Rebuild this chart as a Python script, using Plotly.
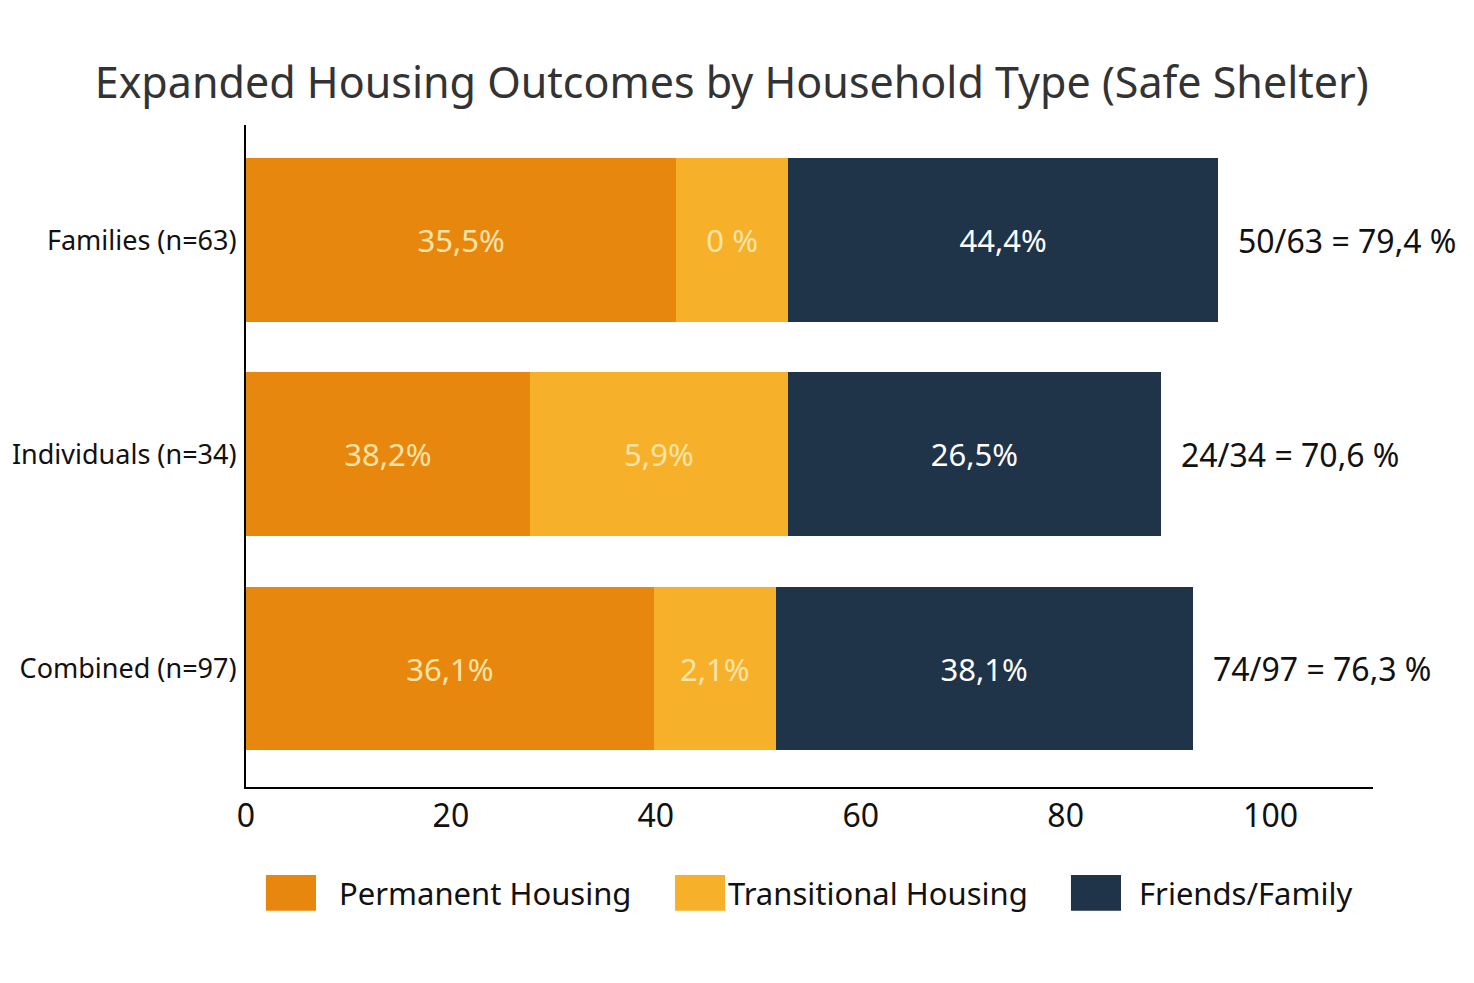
import plotly.graph_objects as go

groups = ["Families (n=63)", "Individuals (n=34)", "Combined (n=97)"]
series = ["Permanent Housing", "Transitional Housing", "Friends/Family"]

# segment lengths as drawn in the picture
permanent = [42.0, 27.7, 39.8]
transitional = [10.9, 25.2, 11.9]
friends = [42.0, 36.4, 40.7]

# labels printed inside the segments
permanent_lbl = ["35,5%", "38,2%", "36,1%"]
transitional_lbl = ["0 %", "5,9%", "2,1%"]
friends_lbl = ["44,4%", "26,5%", "38,1%"]

totals_lbl = ["50/63 = 79,4 %", "24/34 = 70,6 %", "74/97 = 76,3 %"]

colors = ["#E8870E", "#F6B02A", "#1F3349"]
text_colors = ["#FCE4A8", "#FCE4A8", "#FFFFFF"]

FONT = "Noto Sans"

fig = go.Figure()
values = [permanent, transitional, friends]
labels = [permanent_lbl, transitional_lbl, friends_lbl]
for name, vals, lbls, col, tcol in zip(series, values, labels, colors, text_colors):
    fig.add_trace(go.Bar(
        y=groups, x=vals, name=name, orientation="h",
        marker=dict(color=col, line=dict(width=0)),
        text=lbls, textposition="inside", insidetextanchor="middle",
        textfont=dict(family=FONT, size=31, color=tcol),
        width=0.765,
    ))

# totals at the right end of each bar
for g, p, t, f, lbl in zip(groups, permanent, transitional, friends, totals_lbl):
    fig.add_annotation(x=p + t + f, y=g, text=lbl, showarrow=False,
                       xanchor="left", xshift=18,
                       font=dict(family=FONT, size=32, color="#111111"))

# legend drawn by hand so the swatches are big
leg_x = [0.0177, 0.3807, 0.732]
leg_tx = [0.0807, 0.4260, 0.7906]
for name, col, lx, tx in zip(series, colors, leg_x, leg_tx):
    fig.add_shape(type="rect", xref="paper", yref="paper",
                  x0=lx, x1=lx + 0.0444, y0=-0.133, y1=-0.187,
                  fillcolor=col, line=dict(width=0))
    fig.add_annotation(xref="paper", yref="paper", x=tx, y=-0.160,
                       text=name, showarrow=False, xanchor="left",
                       yanchor="middle",
                       font=dict(family=FONT, size=31, color="#111111"))

fig.update_layout(
    title=dict(text="Expanded Housing Outcomes by Household Type (Safe Shelter)",
               x=0.491, xanchor="center", y=0.924, yanchor="middle",
               font=dict(family=FONT, size=43, color="#333333")),
    barmode="stack",
    width=1474, height=983,
    margin=dict(l=238, r=109, t=117, b=204),
    plot_bgcolor="white", paper_bgcolor="white",
    showlegend=False,
    xaxis=dict(range=[0, 110], tickvals=[0, 20, 40, 60, 80, 100],
               showgrid=False, zeroline=False, showline=True,
               linecolor="black", linewidth=2, ticks="", automargin=False,
               tickfont=dict(family=FONT, size=32, color="#111111")),
    yaxis=dict(range=[2.553, -0.537], showgrid=False, zeroline=False,
               showline=True, linecolor="black", linewidth=2, ticks="",
               automargin=False, ticklabelstandoff=2,
               tickfont=dict(family=FONT, size=27, color="#111111")),
)

fig.write_html("out.html")
